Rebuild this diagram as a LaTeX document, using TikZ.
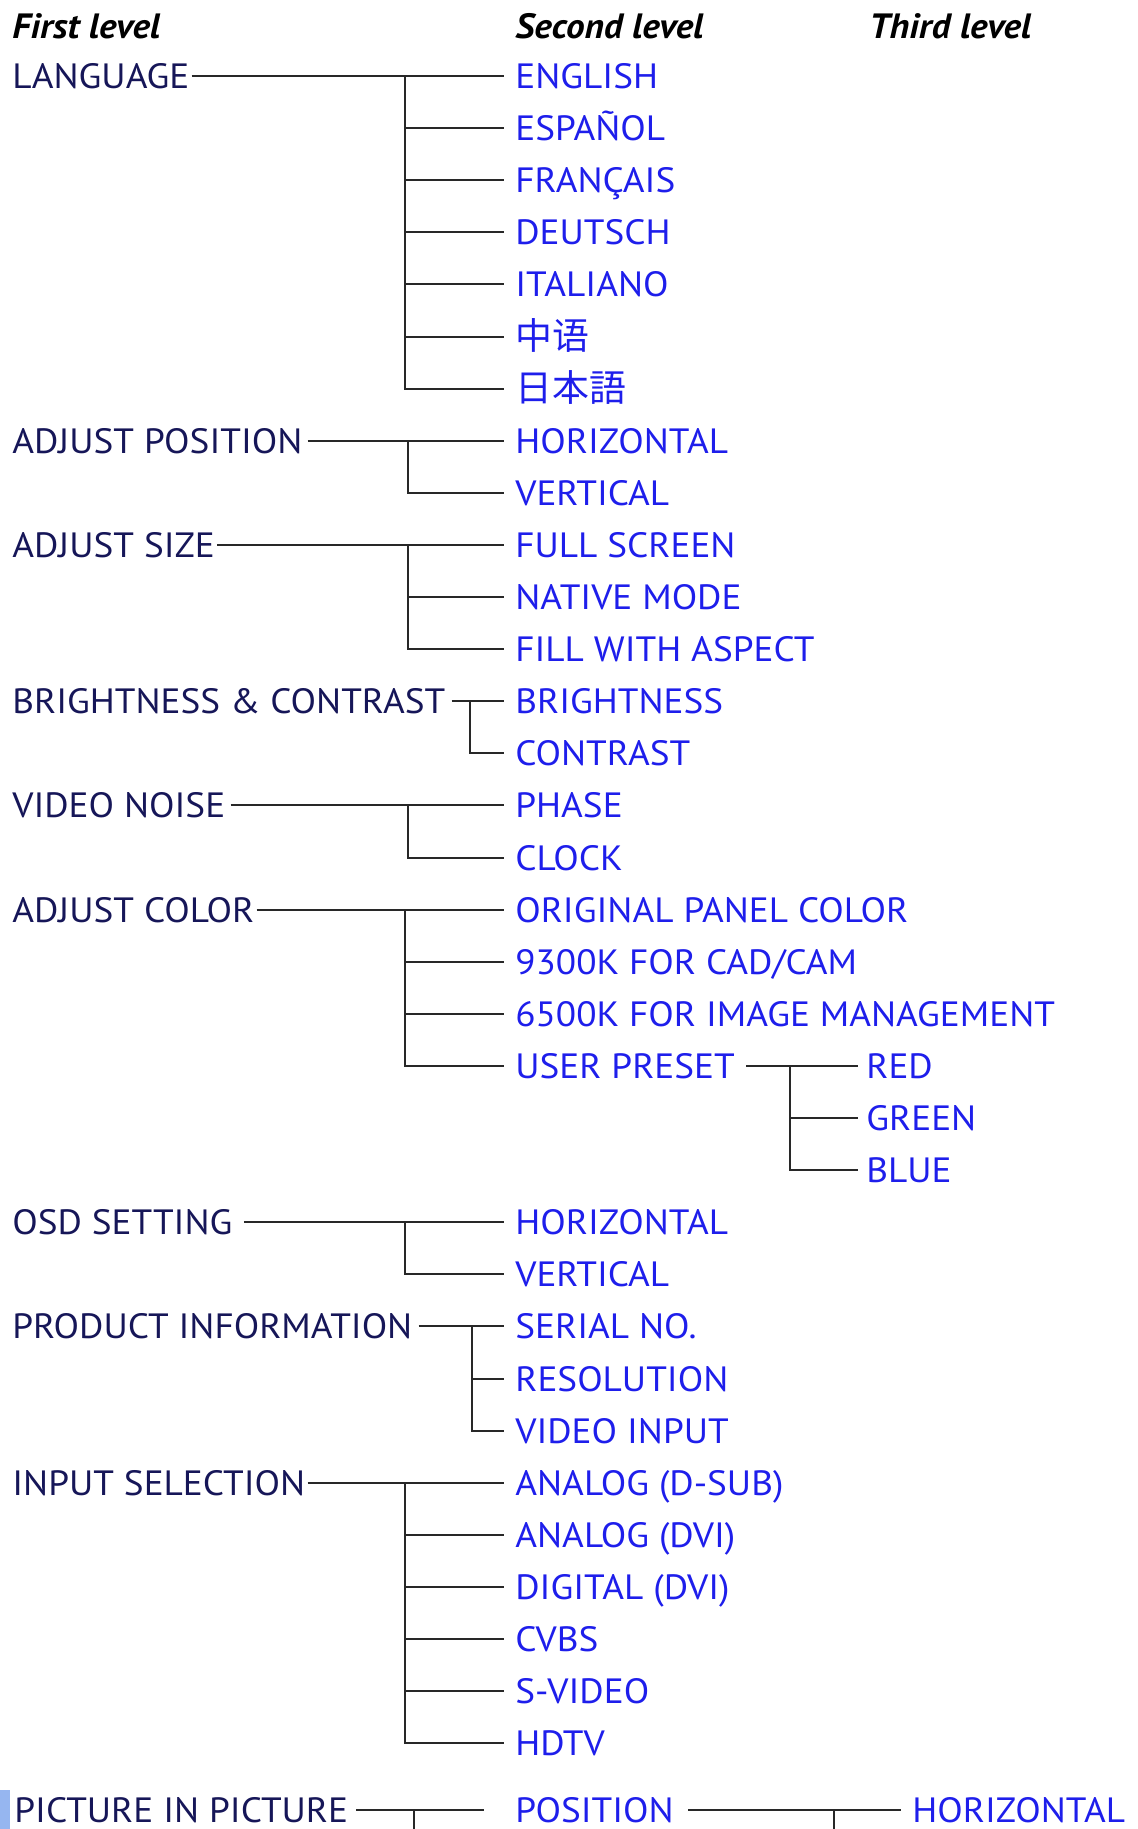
\documentclass[tikz,border=0pt]{standalone}
\usepackage{fontspec}
\setmainfont{PT Sans}[FakeStretch=1.06]
\newfontfamily\cjksc{Noto Sans CJK SC}
\newfontfamily\cjkjp{Noto Sans CJK JP}
\usetikzlibrary{positioning}
\definecolor{menunavy}{RGB}{22,22,88}
\definecolor{menublue}{RGB}{30,30,235}
\definecolor{menuline}{RGB}{40,40,40}
\definecolor{selbar}{RGB}{150,182,240}
\newcommand{\menufont}{\fontsize{20}{20}\selectfont}
\newcommand{\cjkfont}{\fontsize{21}{21}\selectfont}

\begin{document}
\begin{tikzpicture}[x=0.02cm, y=-0.02cm,
  levelhead/.style={anchor=west, inner sep=0pt, text height=14pt, text depth=0pt, font=\menufont\bfseries\itshape},
  firstlvl/.style={anchor=west, inner xsep=0.04cm, inner ysep=0pt, text height=14pt, text depth=0pt, text=menunavy, font=\menufont},
  secondlvl/.style={anchor=west, inner xsep=0.22cm, inner ysep=0pt, text height=14pt, text depth=0pt, text=menublue, font=\menufont},
  thirdlvl/.style={secondlvl, inner xsep=0.16cm},
  branch/.style={draw=menuline, line width=1.3pt}]
\useasboundingbox (0,0) rectangle (1138,1829);
\clip (0,0) rectangle (1138,1829);

% headings
\node[levelhead] (headone) at (12,26) {First level};
\node[levelhead] (headtwo) at (515,26) {Second level};
\node[levelhead] (headthree) at (869,26) {Third level};

% Language
\node[firstlvl] (lang) at (10,76) {LANGUAGE};
\node[secondlvl] (eng) at (504,76) {ENGLISH};
\node[secondlvl] (esp) at (504,128) {ESPAÑOL};
\node[secondlvl] (fra) at (504,180) {FRANÇAIS};
\node[secondlvl] (deu) at (504,232) {DEUTSCH};
\node[secondlvl] (ita) at (504,284) {ITALIANO};
\node[secondlvl] (zho) at (504,337) {\cjksc\cjkfont 中语};
\node[secondlvl] (jpn) at (504,389) {\cjkjp\cjkfont 日本語};
\coordinate (langfork) at (405,76);
\draw[branch] (lang.east) -- (eng.west);
\draw[branch] (langfork) |- (jpn.west);
\foreach \c in {esp,fra,deu,ita,zho}
  \draw[branch] (langfork |- \c.west) -- (\c.west);

% Adjust position
\node[firstlvl] (adjpos) at (10,441) {ADJUST POSITION};
\node[secondlvl] (poshor) at (504,441) {HORIZONTAL};
\node[secondlvl] (posver) at (504,493) {VERTICAL};
\coordinate (posfork) at (408,441);
\draw[branch, shorten <=0.06cm] (adjpos.east) -- (poshor.west);
\draw[branch] (posfork) |- (posver.west);

% Adjust size
\node[firstlvl] (adjsize) at (10,545) {ADJUST SIZE};
\node[secondlvl] (fullscr) at (504,545) {FULL SCREEN};
\node[secondlvl] (native) at (504,597) {NATIVE MODE};
\node[secondlvl] (fillasp) at (504,649) {FILL WITH ASPECT};
\coordinate (sizefork) at (408,545);
\draw[branch] (adjsize.east) -- (fullscr.west);
\draw[branch] (sizefork) |- (fillasp.west);
\draw[branch] (sizefork |- native.west) -- (native.west);

% Brightness and contrast
\node[firstlvl] (brcon) at (10,701) {BRIGHTNESS \& CONTRAST};
\node[secondlvl] (bright) at (504,701) {BRIGHTNESS};
\node[secondlvl] (contr) at (504,753) {CONTRAST};
\coordinate (brfork) at (470,701);
\draw[branch, shorten <=0.08cm] (brcon.east) -- (bright.west);
\draw[branch] (brfork) |- (contr.west);

% Video noise
\node[firstlvl] (vnoise) at (10,805) {VIDEO NOISE};
\node[secondlvl] (phase) at (504,805) {PHASE};
\node[secondlvl] (clock) at (504,858) {CLOCK};
\coordinate (noisefork) at (408,805);
\draw[branch, shorten <=0.06cm] (vnoise.east) -- (phase.west);
\draw[branch] (noisefork) |- (clock.west);

% Adjust color
\node[firstlvl] (adjcol) at (10,910) {ADJUST COLOR};
\node[secondlvl] (origcol) at (504,910) {ORIGINAL PANEL COLOR};
\node[secondlvl] (cadcam) at (504,962) {9300K FOR CAD/CAM};
\node[secondlvl] (imgman) at (504,1014) {6500K FOR IMAGE MANAGEMENT};
\node[secondlvl] (userpre) at (504,1066) {USER PRESET};
\node[thirdlvl] (red) at (858,1066) {RED};
\node[thirdlvl] (green) at (858,1118) {GREEN};
\node[thirdlvl] (blue) at (858,1170) {BLUE};
\coordinate (colfork) at (405,910);
\coordinate (userfork) at (790,1066);
\draw[branch] (adjcol.east) -- (origcol.west);
\draw[branch] (colfork) |- (userpre.west);
\foreach \c in {cadcam,imgman}
  \draw[branch] (colfork |- \c.west) -- (\c.west);
\draw[branch] (userpre.east) -- (red.west);
\draw[branch] (userfork) |- (blue.west);
\draw[branch] (userfork |- green.west) -- (green.west);

% OSD setting
\node[firstlvl] (osd) at (10,1222) {OSD SETTING};
\node[secondlvl] (osdhor) at (504,1222) {HORIZONTAL};
\node[secondlvl] (osdver) at (504,1274) {VERTICAL};
\coordinate (osdfork) at (405,1222);
\draw[branch, shorten <=0.18cm] (osd.east) -- (osdhor.west);
\draw[branch] (osdfork) |- (osdver.west);

% Product information
\node[firstlvl] (prodinfo) at (10,1326) {PRODUCT INFORMATION};
\node[secondlvl] (serial) at (504,1326) {SERIAL NO.};
\node[secondlvl] (resol) at (504,1379) {RESOLUTION};
\node[secondlvl] (vidin) at (504,1431) {VIDEO INPUT};
\coordinate (prodfork) at (472,1326);
\draw[branch, shorten <=0.08cm] (prodinfo.east) -- (serial.west);
\draw[branch] (prodfork) |- (vidin.west);
\draw[branch] (prodfork |- resol.west) -- (resol.west);

% Input selection
\node[firstlvl] (insel) at (10,1483) {INPUT SELECTION};
\node[secondlvl] (dsub) at (504,1483) {ANALOG (D-SUB)};
\node[secondlvl] (advi) at (504,1535) {ANALOG (DVI)};
\node[secondlvl] (ddvi) at (504,1587) {DIGITAL (DVI)};
\node[secondlvl] (cvbs) at (504,1639) {CVBS};
\node[secondlvl] (svideo) at (504,1691) {S-VIDEO};
\node[secondlvl] (hdtv) at (504,1743) {HDTV};
\coordinate (infork) at (405,1483);
\draw[branch] (insel.east) -- (dsub.west);
\draw[branch] (infork) |- (hdtv.west);
\foreach \c in {advi,ddvi,cvbs,svideo}
  \draw[branch] (infork |- \c.west) -- (\c.west);

% Picture in picture
\fill[selbar] (0,1790) rectangle (10,1829);
\node[firstlvl] (pip) at (12,1810) {PICTURE IN PICTURE};
\node[secondlvl] (pippos) at (504,1810) {POSITION};
\node[secondlvl] (piphor) at (901,1810) {HORIZONTAL};
\coordinate (pipfork) at (414,1810);
\coordinate (pipdown) at (414,1860);
\coordinate (posfork2) at (834,1810);
\coordinate (posdown) at (834,1860);
\draw[branch, shorten <=0.12cm, shorten >=0.4cm] (pip.east) -- (pippos.west);
\draw[branch] (pipfork) -- (pipdown);
\draw[branch, shorten <=0.06cm] (pippos.east) -- (piphor.west);
\draw[branch] (posfork2) -- (posdown);
\end{tikzpicture}
\end{document}
